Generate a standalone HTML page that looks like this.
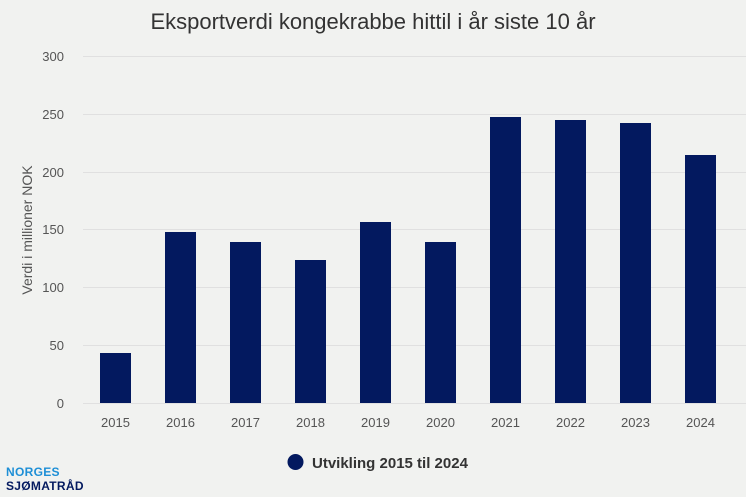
<!DOCTYPE html>
<html><head><meta charset="utf-8"><style>
body{margin:0;background:#f1f2f0;}
svg{display:block;font-family:"Liberation Sans",sans-serif;}
</style></head><body>
<svg width="746" height="497" xmlns="http://www.w3.org/2000/svg">
<rect width="746" height="497" fill="#f1f2f0"/>
<text x="373" y="29" text-anchor="middle" font-size="22" fill="#333">Eksportverdi kongekrabbe hittil i år siste 10 år</text>
<g stroke="#e0e0e0" stroke-width="1">
<line x1="83" x2="746" y1="56.5" y2="56.5"/><line x1="83" x2="746" y1="114.5" y2="114.5"/>
<line x1="83" x2="746" y1="172.5" y2="172.5"/><line x1="83" x2="746" y1="229.5" y2="229.5"/>
<line x1="83" x2="746" y1="287.5" y2="287.5"/><line x1="83" x2="746" y1="345.5" y2="345.5"/>
<line x1="83" x2="746" y1="403.5" y2="403.5"/>
</g>
<g font-size="13" fill="#555" text-anchor="end">
<text x="64" y="61">300</text><text x="64" y="119">250</text><text x="64" y="177">200</text>
<text x="64" y="234">150</text><text x="64" y="292">100</text><text x="64" y="350">50</text><text x="64" y="408">0</text>
</g>
<text transform="translate(32,230) rotate(-90)" text-anchor="middle" font-size="14" fill="#555">Verdi i millioner NOK</text>
<g fill="#03195f">
<rect x="100" y="353" width="31" height="50"/>
<rect x="165" y="232" width="31" height="171"/>
<rect x="230" y="242" width="31" height="161"/>
<rect x="295" y="260" width="31" height="143"/>
<rect x="360" y="222" width="31" height="181"/>
<rect x="425" y="242" width="31" height="161"/>
<rect x="490" y="117" width="31" height="286"/>
<rect x="555" y="120" width="31" height="283"/>
<rect x="620" y="123" width="31" height="280"/>
<rect x="685" y="155" width="31" height="248"/>
</g>
<g font-size="13" fill="#555" text-anchor="middle">
<text x="115.5" y="427">2015</text><text x="180.5" y="427">2016</text><text x="245.5" y="427">2017</text>
<text x="310.5" y="427">2018</text><text x="375.5" y="427">2019</text><text x="440.5" y="427">2020</text>
<text x="505.5" y="427">2021</text><text x="570.5" y="427">2022</text><text x="635.5" y="427">2023</text>
<text x="700.5" y="427">2024</text>
</g>
<circle cx="295.5" cy="462" r="8" fill="#03195f"/>
<text x="312" y="468" font-size="15" font-weight="bold" fill="#333">Utvikling 2015 til 2024</text>
<text x="6" y="476" font-size="12" font-weight="bold" fill="#1e8fd6" letter-spacing="0.3">NORGES</text>
<text x="6" y="490" font-size="12" font-weight="bold" fill="#03195f" letter-spacing="0.3">SJØMATRÅD</text>
</svg>
</body></html>
